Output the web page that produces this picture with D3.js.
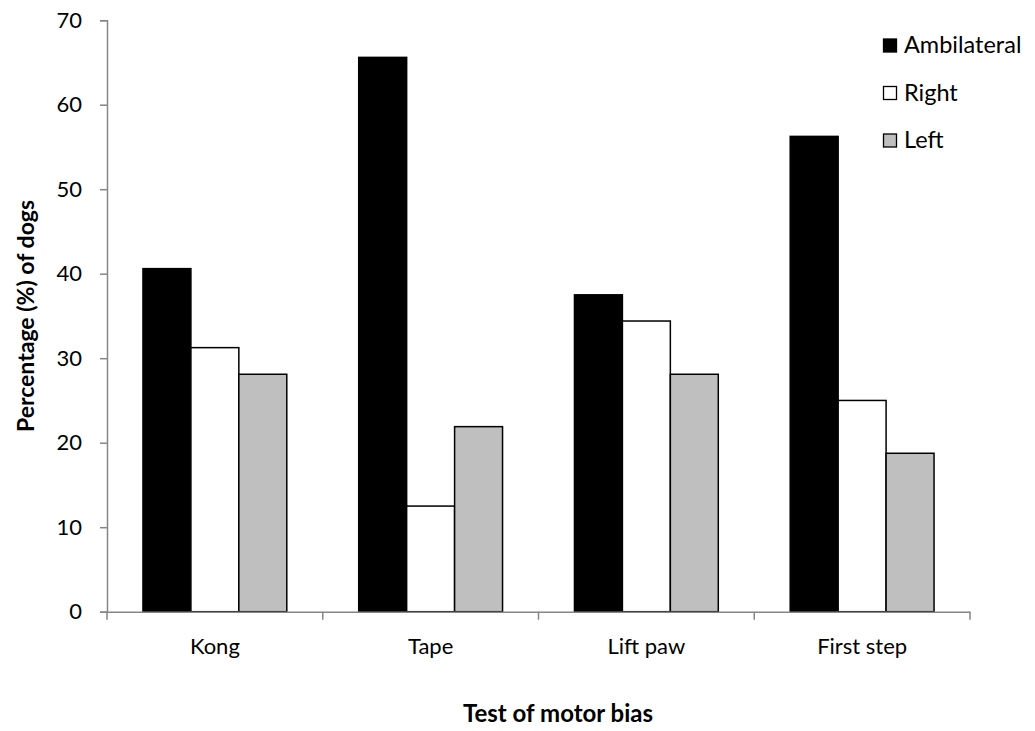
<!DOCTYPE html>
<html><head><meta charset="utf-8">
<script src="https://cdn.jsdelivr.net/npm/d3@7"></script>
<style>body{margin:0;background:#fff}svg{display:block}text{font-family:Lato,"Open Sans",sans-serif}</style>
</head><body>
<svg id="c" width="1035" height="731"></svg>
<script>
const categories = ["Kong", "Tape", "Lift paw", "First step"];
const seriesNames = ["Ambilateral", "Right", "Left"];
const ambilateral = [40.6, 65.6, 37.5, 56.25];
const right = [31.25, 12.5, 34.4, 25];
const left = [28.1, 21.9, 28.1, 18.75];
const yTicks = [0, 10, 20, 30, 40, 50, 60, 70];
const fills = ["#000000", "#ffffff", "#bfbfbf"];

const svg = d3.select("#c");
const m = {l: 107, r: 970, t: 20.2, b: 611.7};
const x = d3.scaleBand().domain(categories).range([m.l, m.r]).paddingInner(0).paddingOuter(0);
const inner = d3.scaleBand().domain(seriesNames).range([x.bandwidth()/6, x.bandwidth()*5/6]);
const y = d3.scaleLinear().domain([0, 70]).range([m.b, m.t]);
const data = [ambilateral, right, left];

// bars
seriesNames.forEach((s, si) => {
  svg.append("g").selectAll("rect").data(categories).join("rect")
    .attr("x", c => x(c) + inner(s))
    .attr("width", inner.bandwidth())
    .attr("y", (c, i) => y(data[si][i]))
    .attr("height", (c, i) => y(0) - y(data[si][i]))
    .attr("fill", fills[si])
    .attr("stroke", "#000").attr("stroke-width", 1.5);
});

// y axis
const ya = svg.append("g").attr("transform", `translate(${m.l},0)`)
  .call(d3.axisLeft(y).tickValues(yTicks).tickSize(7).tickPadding(18).tickFormat(d3.format("d")));
ya.select(".domain").attr("stroke", "#868686").attr("stroke-width", 1.5);
ya.selectAll(".tick line").attr("stroke", "#868686").attr("stroke-width", 1.5);
ya.selectAll("text").attr("font-size", 22).attr("fill", "#000").style("font-family", "Lato, sans-serif");

// x axis
const xa = svg.append("g").attr("transform", `translate(0,${m.b})`)
  .call(d3.axisBottom(x).tickSize(0).tickPadding(27));
xa.select(".domain").attr("stroke", "#868686").attr("stroke-width", 1.5);
xa.selectAll("text").attr("font-size", 22).attr("fill", "#000").style("font-family", "Lato, sans-serif");
const bounds = categories.map(c => x(c)).concat([x(categories[categories.length-1]) + x.bandwidth()]);
svg.append("g").selectAll("line").data(bounds).join("line")
  .attr("x1", d => d).attr("x2", d => d).attr("y1", m.b).attr("y2", m.b + 8)
  .attr("stroke", "#868686").attr("stroke-width", 1.5);

// axis titles
svg.append("text").attr("x", 558).attr("y", 722).attr("text-anchor", "middle")
  .attr("font-size", 24).attr("font-weight", "bold").text("Test of motor bias");
svg.append("text").attr("transform", "translate(34,316) rotate(-90)").attr("text-anchor", "middle")
  .attr("font-size", 23).attr("font-weight", "bold").text("Percentage (%) of dogs");

// legend
const lg = svg.append("g");
seriesNames.forEach((s, i) => {
  const base = 53 + i * 47.5;
  lg.append("rect").attr("x", 883.5).attr("y", base - 14).attr("width", 13).attr("height", 13)
    .attr("fill", fills[i]).attr("stroke", "#000").attr("stroke-width", 1.3);
  lg.append("text").attr("x", 904).attr("y", base).attr("font-size", 23.5).text(s);
});
</script>
</body></html>
